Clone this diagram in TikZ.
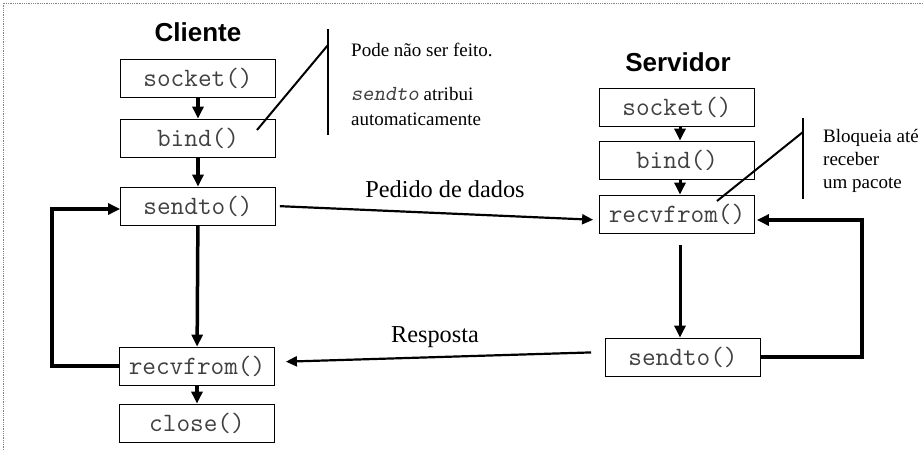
\documentclass[tikz,border=0pt]{standalone}
\usepackage{fontspec}
\setmainfont{Liberation Serif}
\newfontfamily\headfont{Liberation Sans}
\usetikzlibrary{arrows.meta,calc}

\begin{document}
\begin{tikzpicture}[x=1pt, y=-1pt,
        func/.style={draw, line width=0.8pt, minimum width=155pt, minimum height=38pt, inner sep=0pt,
            text=black!75, font=\ttfamily\fontsize{26.5}{26.5}\selectfont},
        heading/.style={anchor=base, font=\headfont\bfseries\fontsize{26}{26}\selectfont},
        note/.style={anchor=base west, inner sep=0pt, font=\fontsize{19}{23}\selectfont},
        label/.style={anchor=base, inner sep=0pt, font=\fontsize{24.3}{25}\selectfont},
        flow/.style={line width=3.5pt, -{Triangle[length=12pt,width=11pt]}},
        msg/.style={line width=2.2pt, -{Triangle[length=11pt,width=10pt]}},
        loopline/.style={line width=3.8pt},
        callout/.style={line width=2pt}]
    \useasboundingbox (0,0) rectangle (924,450);
    \draw[gray, densely dotted, line width=0.8pt] (3,450) -- (3,3) -- (924,3);

    % 客户端
    \node[heading] (cliente) at (198,41) {Cliente};
    \node[func] (csock) at (198,78) {socket()};
    \node[func] (cbind) at (198,138) {bind()};
    \node[func] (csend) at (198,206) {sendto()};
    \node[func] (crecv) at (197,366) {recvfrom()};
    \node[func] (cclose) at (197,423) {close()};

    \draw[flow] (csock) -- (cbind);
    \draw[flow] (cbind) -- (csend);
    \draw[flow] (csend) -- (crecv);
    \draw[flow] (crecv) -- (cclose);

    % 客户端循环
    \coordinate (cloop) at (52,290);
    \draw[loopline] (crecv.west) -| (cloop);
    \draw[loopline, -{Triangle[length=12pt,width=11pt]}] (cloop) |- ($(csend.west)+(0,3)$);

    % 服务器
    \node[heading] (servidor) at (678,71) {Servidor};
    \node[func] (ssock) at (677,107) {socket()};
    \node[func] (sbind) at (677,160) {bind()};
    \node[func] (srecv) at (677,214) {recvfrom()};
    \node[func] (ssend) at (683,357) {sendto()};

    \draw[flow, line width=3pt] (ssock.south -| 680,0) -- (sbind.north -| 680,0);
    \draw[flow, line width=3pt] (sbind.south -| 680,0) -- (srecv.north -| 680,0);
    \draw[flow, line width=3pt, shorten <=12pt] (srecv.south -| 680,0) -- (ssend.north -| 680,0);

    % 服务器循环
    \coordinate (sloop) at (862,290);
    \draw[loopline] (ssend.east) -| (sloop);
    \draw[loopline, -{Triangle[length=12pt,width=11pt]}] (sloop) |- ($(srecv.east)+(2,6)$);

    % 消息
    \draw[msg, shorten <=4pt, shorten >=6pt] (csend.east) -- ($(srecv.west)+(0,6)$);
    \node[label] (pedido) at (445,197) {Pedido de dados};
    \draw[msg, shorten <=14pt, shorten >=11pt] ($(ssend.west)+(0,-5)$) -- ($(crecv.east)+(0,-4)$);
    \node[label] (resposta) at (435,342) {Resposta};

    % 注释
    \coordinate (ctop) at (328,29);
    \coordinate (cbot) at (328,135);
    \coordinate (cmid) at (328,45);
    \draw[callout, line width=2.8pt] (ctop) -- (cbot);
    \draw[callout] (cmid) -- ($(cbind.center)+(59,-8)$);
    \node[note] (cnote1) at (351,56) {Pode não ser feito.};
    \node[note] (cnote2) at (351,100) {{\ttfamily\slshape\color{black!75}\fontsize{21.5}{23}\selectfont sendto} atribui};
    \node[note] (cnote3) at (351,125) {automaticamente};

    \coordinate (stop) at (803,118);
    \coordinate (sbot) at (803,199);
    \coordinate (smid) at (803,132);
    \draw[callout, line width=2.8pt] (stop) -- (sbot);
    \draw[callout] (smid) -- ($(srecv.center)+(40,-13)$);
    \node[note] (snote1) at (823,142) {Bloqueia até};
    \node[note] (snote2) at (823,165) {receber};
    \node[note] (snote3) at (823,188) {um pacote};
\end{tikzpicture}
\end{document}
